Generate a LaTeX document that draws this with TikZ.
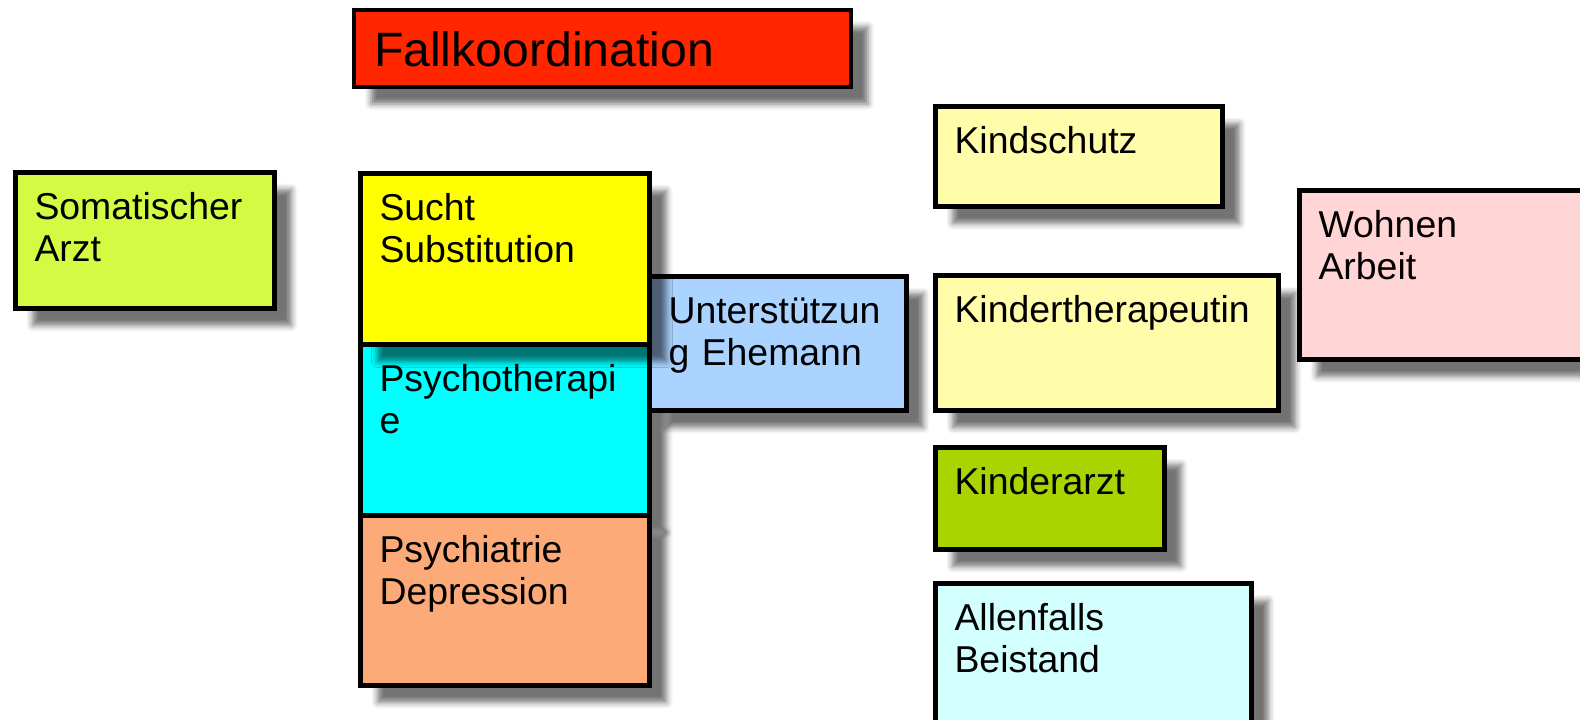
\documentclass[tikz,border=0pt]{standalone}
\usepackage{fontspec}
\setmainfont{Liberation Sans}
\usetikzlibrary{shadows.blur}

\definecolor{fallrot}{RGB}{255,38,0}
\definecolor{somagruen}{RGB}{212,250,67}
\definecolor{suchtgelb}{RGB}{255,255,0}
\definecolor{psychocyan}{RGB}{0,255,255}
\definecolor{psychiaorange}{RGB}{253,170,121}
\definecolor{unterblau}{RGB}{170,212,255}
\definecolor{kindgelb}{RGB}{255,252,170}
\definecolor{wohnrosa}{RGB}{255,213,214}
\definecolor{arztgruen}{RGB}{170,212,0}
\definecolor{beistandcyan}{RGB}{212,255,255}

\begin{document}
\begin{tikzpicture}[x=0.5pt, y=-0.5pt,
      kasten/.style={draw=black, line width=2.5pt, anchor=north west, align=left, inner xsep=9.5pt, inner ysep=0pt, text height=23.5pt, font=\fontsize{18.7}{21}\selectfont, blur shadow={shadow xshift=8.5pt, shadow yshift=-8.5pt, shadow blur radius=3pt, shadow opacity=55}}]

\useasboundingbox (0,0) rectangle (1580,719);

\node[kasten, fill=fallrot, line width=2pt, inner xsep=10pt, text height=28.3pt, text width=228.5pt, text depth=10.2pt, font=\fontsize{24.1}{28}\selectfont] (fall) at (352,8) {Fallkoordination};
\node[kasten, fill=somagruen, text width=110.5pt, text depth=44.5pt] (soma) at (13,170) {Somatischer\\Arzt};
\node[kasten, fill=psychocyan, text width=125.5pt, text depth=62pt] (psytherapie) at (358,342) {Psychotherapi\\e};
\node[kasten, fill=psychiaorange, text width=125.5pt, text depth=61.5pt] (psychiatrie) at (358,513) {Psychiatrie\\Depression};
\node[kasten, fill=unterblau, text width=109.5pt, text depth=43.5pt] (ehemann) at (647,274) {Unterstützun\\g Ehemann};
\node[kasten, fill=suchtgelb, text width=125.5pt, text depth=62pt] (sucht) at (358,171) {Sucht\\Substitution};
\node[kasten, fill=kindgelb, text width=124.5pt, text depth=26.5pt] (kindschutz) at (933,104) {Kindschutz};
\node[kasten, fill=kindgelb, text width=152.5pt, text depth=44pt] (kindtherapie) at (933,273) {Kindertherapeutin};
\node[kasten, fill=wohnrosa, text width=130pt, text depth=61pt] (wohnen) at (1297,188) {Wohnen\\Arbeit};
\node[kasten, fill=arztgruen, text width=95.5pt, text depth=27.5pt] (kinderarzt) at (933,445) {Kinderarzt};
\node[kasten, fill=beistandcyan, text width=139pt, text depth=63.5pt] (beistand) at (933,581) {Allenfalls\\Beistand};

\end{tikzpicture}
\end{document}
